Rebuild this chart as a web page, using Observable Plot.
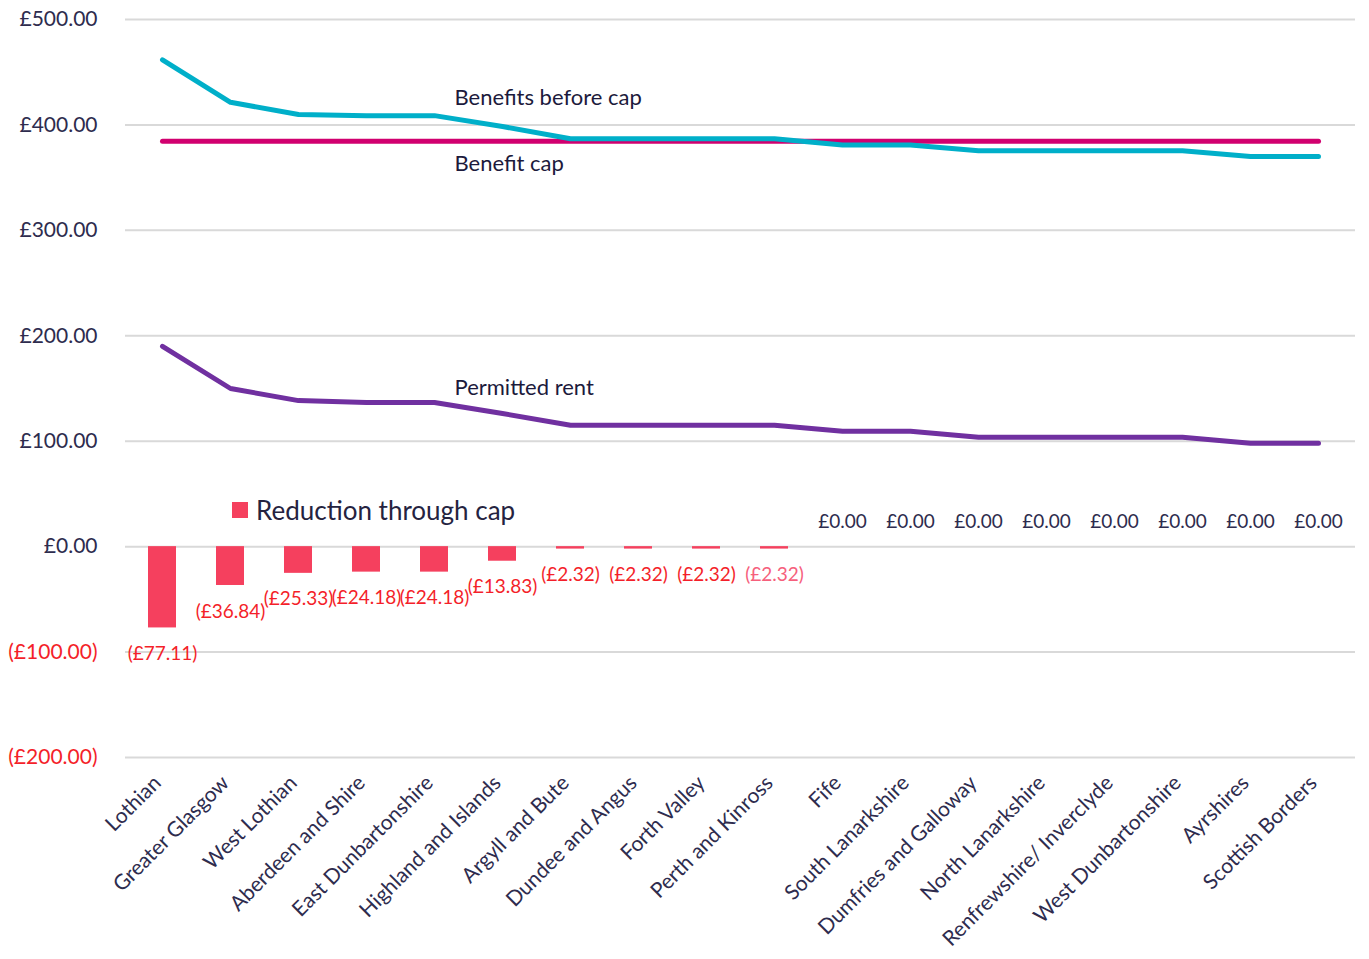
<!DOCTYPE html>
<html>
<head>
<meta charset="utf-8">
<script src="https://cdn.jsdelivr.net/npm/d3@7"></script>
<script src="https://cdn.jsdelivr.net/npm/@observablehq/plot@0.6"></script>
<style>
  html, body { margin: 0; padding: 0; background: #fff; }
  #wrap { position: relative; width: 1369px; height: 959px; font-family: Lato, "Open Sans", sans-serif; }
  #legend { position: absolute; left: 232px; top: 494px; display: flex; align-items: center; font-size: 26px; color: #25233f; }
  #legend .sw { width: 16px; height: 16px; background: #f5405e; margin-right: 8px; }
</style>
</head>
<body>
<div id="wrap">
  <div id="chart"></div>
  <div id="legend"><span class="sw"></span><span>Reduction through cap</span></div>
</div>
<script>
const regions = ["Lothian", "Greater Glasgow", "West Lothian", "Aberdeen and Shire", "East Dunbartonshire",
  "Highland and Islands", "Argyll and Bute", "Dundee and Angus", "Forth Valley", "Perth and Kinross",
  "Fife", "South Lanarkshire", "Dumfries and Galloway", "North Lanarkshire", "Renfrewshire/ Inverclyde",
  "West Dunbartonshire", "Ayrshires", "Scottish Borders"];
const benefitsBeforeCap = [461.73, 421.46, 409.95, 408.80, 408.80, 398.45, 386.94, 386.94, 386.94, 386.94,
  381.0, 381.0, 375.5, 375.5, 375.5, 375.5, 370.0, 370.0];
const benefitCap = 384.62;
const permittedRent = [190.0, 150.0, 138.5, 136.8, 136.8, 126.3, 115.2, 115.2, 115.2, 115.2,
  109.5, 109.5, 103.8, 103.8, 103.8, 103.8, 98.0, 98.0];
const reduction = [-77.11, -36.84, -25.33, -24.18, -24.18, -13.83, -2.32, -2.32, -2.32, -2.32,
  0, 0, 0, 0, 0, 0, 0, 0];
const yTicks = [-200, -100, 0, 100, 200, 300, 400, 500];
const lineLabelAnchor = "East Dunbartonshire";

const rows = regions.map((r, i) => ({region: r, before: benefitsBeforeCap[i], cap: benefitCap, rent: permittedRent[i], red: reduction[i], idx: i}));
const anchorRow = rows.find(d => d.region === lineLabelAnchor);

const money = v => v < 0 ? `(£${Math.abs(v).toFixed(2)})` : `£${v.toFixed(2)}`;
const dark = "#2e2c4e";
const red = "#f41f2a";
const labelStyle = {x: "region", textAnchor: "start", dx: 20, fontSize: 22, fill: "#1c1a3c"};

const chart = Plot.plot({
  width: 1369,
  height: 959,
  marginLeft: 125,
  marginRight: 14,
  marginTop: 19,
  marginBottom: 202,
  style: {fontFamily: "Lato, 'Open Sans', sans-serif", background: "#fff"},
  x: {domain: regions, paddingInner: 0.59, paddingOuter: 0.307, axis: null},
  y: {domain: [-200, 500], axis: null},
  marks: [
    Plot.ruleY(yTicks, {stroke: "#d9d9d9", strokeWidth: 2}),
    Plot.text(yTicks, {y: d => d, frameAnchor: "left", dx: -28, textAnchor: "end", text: money,
      fill: d => d < 0 ? red : dark, fontSize: 21}),
    Plot.axisX({domain: regions, tickSize: 0, tickPadding: 22, tickRotate: -45, fontSize: 21, fill: dark, label: null, dx: -5}),
    Plot.barY(rows, {x: "region", y: "red", fill: "#f5405e"}),
    Plot.line(rows, {x: "region", y: "rent", stroke: "#7030a0", strokeWidth: 5, strokeLinecap: "round", strokeLinejoin: "round"}),
    Plot.line(rows, {x: "region", y: "cap", stroke: "#d1006f", strokeWidth: 5, strokeLinecap: "round"}),
    Plot.line(rows, {x: "region", y: "before", stroke: "#00afc9", strokeWidth: 5, strokeLinecap: "round", strokeLinejoin: "round"}),
    Plot.text(rows.filter(d => d.red < 0), {x: "region", y: "red", dy: 26, text: d => money(d.red), fontSize: 19,
      fill: d => d.idx === 9 ? "#f6607c" : red}),
    Plot.text(rows.filter(d => d.red === 0), {x: "region", y: "red", dy: -25, text: d => money(d.red), fontSize: 19, fill: dark}),
    Plot.text([anchorRow], {...labelStyle, y: "before", dy: -18, text: () => "Benefits before cap"}),
    Plot.text([anchorRow], {...labelStyle, y: "cap", dy: 23, text: () => "Benefit cap"}),
    Plot.text([anchorRow], {...labelStyle, y: "rent", dy: -14, text: () => "Permitted rent"})
  ]
});
document.getElementById("chart").appendChild(chart);
</script>
</body>
</html>
